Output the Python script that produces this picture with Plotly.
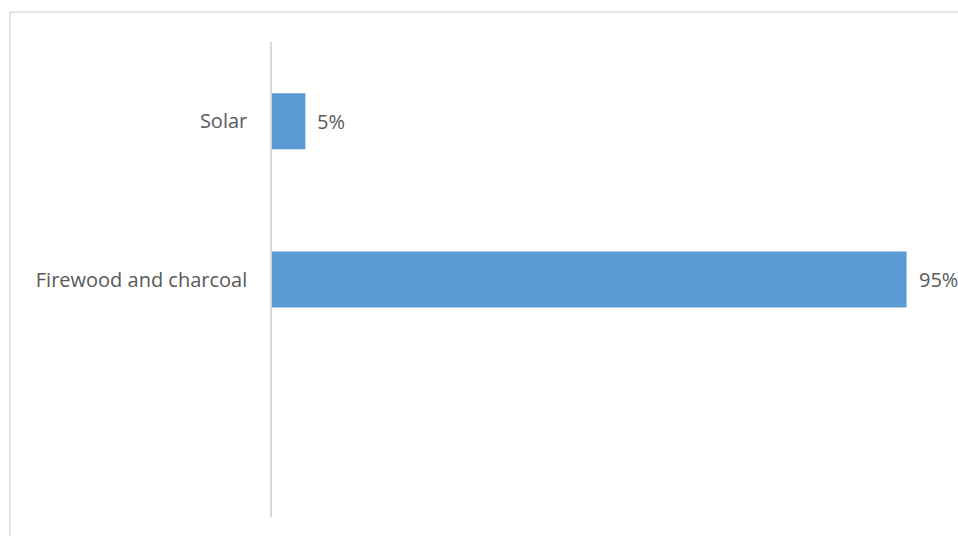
import plotly.graph_objects as go

# Energy source shares (%)
categories = ["Firewood and charcoal", "Solar"]
values = [95, 5]
positions = [1, 2]  # slot 0 is left empty at the bottom

bar_color = "#5b9bd5"
text_color = "#595959"
line_color = "#d9d9d9"
font_family = "Open Sans, Noto Sans, sans-serif"
font_size = 20

fig = go.Figure()
fig.add_trace(go.Bar(
    x=values,
    y=positions,
    orientation="h",
    width=0.354,
    marker=dict(color=bar_color, line=dict(width=0)),
    hoverinfo="skip",
))

for v, p in zip(values, positions):
    fig.add_annotation(
        x=v, y=p, xref="x", yref="y",
        text=f"{v}%", showarrow=False,
        xanchor="left", yanchor="middle", xshift=10,
        font=dict(family=font_family, size=font_size, color=text_color),
    )

# outer chart-area frame
fig.add_shape(
    type="rect", xref="paper", yref="paper",
    x0=-0.382, x1=1.05, y0=-0.1, y1=1.063,
    line=dict(color=line_color, width=1.3),
    fillcolor="rgba(0,0,0,0)", layer="below",
)

fig.update_layout(
    width=958, height=536,
    margin=dict(l=272, r=0, t=42, b=19),
    paper_bgcolor="white", plot_bgcolor="white",
    showlegend=False,
    font=dict(family=font_family, size=font_size, color=text_color),
    xaxis=dict(range=[0, 102.7], visible=False, fixedrange=True),
    yaxis=dict(
        range=[-0.5, 2.5],
        tickmode="array", tickvals=positions, ticktext=categories,
        showline=True, linecolor=line_color, linewidth=1.5,
        showgrid=False, zeroline=False, ticks="",
        ticklabelstandoff=19,
        tickfont=dict(family=font_family, size=font_size, color=text_color),
        fixedrange=True,
    ),
)

fig.write_html("out.html")
